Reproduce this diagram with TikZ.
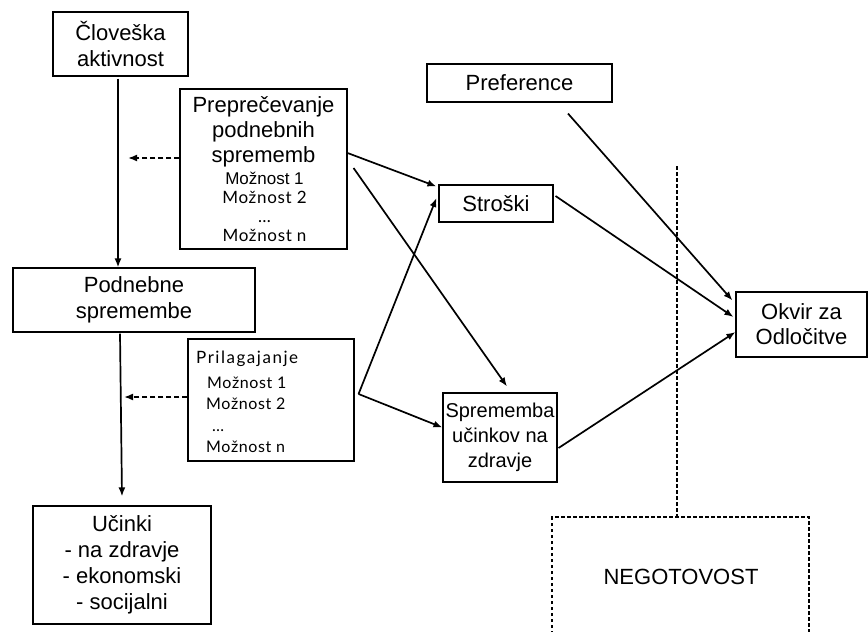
\documentclass[tikz,border=0pt]{standalone}
\usepackage{fontspec}
\setmainfont{Liberation Sans}
\newfontfamily\gill[LetterSpace=4]{Lato}
\newfontfamily\gillwide[LetterSpace=9]{Lato}
\usetikzlibrary{arrows.meta}
\begin{document}
\begin{tikzpicture}[x=1pt,y=-1pt,
  box/.style={draw, line width=1.1pt, inner sep=0pt, align=center, font=\fontsize{22}{26}\selectfont},
  txt/.style={inner sep=0pt, align=center},
  arr/.style={-{Latex[length=9pt,width=7pt]}, line width=1.7pt},
  darr/.style={arr, dash pattern=on 5pt off 3pt},
  dline/.style={line width=1.4pt, dash pattern=on 3.5pt off 2.5pt}]
\useasboundingbox (0,0) rectangle (868,632);

% boxes
\node[box, minimum width=135pt, minimum height=64pt] (cl) at (120.5,44) {Človeška\\aktivnost};
\node[box, minimum width=167pt, minimum height=160pt] (prep) at (263.5,169) {};
\node[txt, font=\fontsize{22}{25}\selectfont] (prepT) at (263.5,132) {Preprečevanje\\podnebnih\\sprememb};
\node[txt, font=\fontsize{17}{19}\selectfont] (prepM) at (264.5,207) {Možnost 1\\{\gill Možnost 2}\\{\gill \dots}\\{\gill Možnost n}};
\node[box, minimum width=242pt, minimum height=64pt] (pod) at (134,300) {Podnebne\\spremembe};
\node[box, minimum width=166pt, minimum height=122pt] (pril) at (271,400) {};
\node[txt, anchor=west, font=\fontsize{17}{20}\selectfont\gillwide] (prilT) at (196,359) {Prilagajanje};
\node[txt, anchor=west, align=left, font=\fontsize{16}{21.5}\selectfont\gill] (prilM) at (206,415) {\hspace*{1pt}Možnost 1\\Možnost 2\\\hspace*{6pt}\dots\\Možnost n};
\node[box, minimum width=178pt, minimum height=118pt] (uc) at (122,565) {Učinki\\- na zdravje\\- ekonomski\\- socijalni};
\node[box, minimum width=185pt, minimum height=38pt] (pref) at (519.5,83) {Preference};
\node[box, minimum width=114pt, minimum height=37pt] (str) at (496,203.5) {Stroški};
\node[box, minimum width=114pt, minimum height=89pt, font=\fontsize{20}{25}\selectfont] (spr) at (500,437.5) {Sprememba\\učinkov na\\zdravje};
\node[box, minimum width=131pt, minimum height=65pt, font=\fontsize{22}{25}\selectfont] (okv) at (801.5,324.5) {Okvir za\\Odločitve};

% uncertainty
\coordinate (nl) at (552,640);
\coordinate (nr) at (809,640);
\coordinate (ntl) at (552,517);
\coordinate (ntr) at (809,517);
\coordinate (ntm) at (677,517);
\coordinate (vtop) at (677,166);
\draw[dline] (nl) -- (ntl) -- (ntr) -- (nr);
\draw[dline] (vtop) -- (ntm);
\node[txt, font=\fontsize{22}{26}\selectfont] (neg) at (681,577) {NEGOTOVOST};

% connectors
\draw[arr] ([xshift=-2.5pt,yshift=-2pt]cl.south) -- ([xshift=-16pt]pod.north);
\draw[arr] ([xshift=-14pt,yshift=-1pt]pod.south) -- ([yshift=9pt]uc.north);
\coordinate (d1) at (128,158);
\coordinate (d2) at (124,397);
\draw[darr] ([yshift=11pt]prep.west) -- (d1);
\draw[darr] ([yshift=3pt]pril.west) -- (d2);
\draw[arr] ([yshift=16pt]prep.east) -- ([xshift=-2pt,yshift=-2pt]str.north west);
\draw[arr] ([xshift=6pt,yshift=1pt]prep.east) -- ([xshift=7pt,yshift=6pt]spr.north);
\draw[arr] ([xshift=4pt,yshift=6pt]pril.east) -- ([xshift=-2pt,yshift=5.5pt]str.west);
\draw[arr] ([xshift=4pt,yshift=6pt]pril.east) -- ([yshift=10pt]spr.west);
\draw[arr] ([xshift=48.5pt,yshift=-11pt]pref.south) -- ([xshift=-3pt,yshift=-9pt]okv.north west);
\draw[arr] ([xshift=2pt,yshift=7.5pt]str.east) -- ([xshift=-2pt,yshift=7.5pt]okv.west);
\draw[arr] ([xshift=1pt,yshift=-10.5pt]spr.east) -- ([yshift=-7.5pt]okv.west);
\end{tikzpicture}
\end{document}
